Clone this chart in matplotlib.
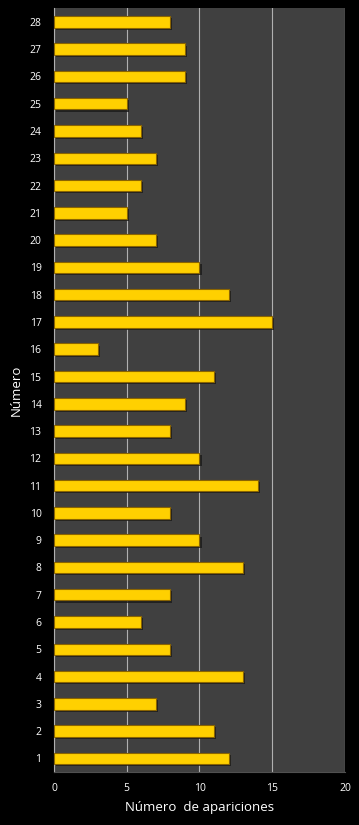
import matplotlib.pyplot as plt
import matplotlib.patheffects as pe

numbers = list(range(1, 29))
counts = [12, 11, 7, 13, 8, 6, 8, 13, 10, 8, 14, 10, 8, 9, 11, 3,
          15, 12, 10, 7, 5, 6, 7, 6, 5, 9, 9, 8]
x_ticks = [0, 5, 10, 15, 20]

plt.rcParams["font.family"] = ["Open Sans", "DejaVu Sans"]

fig = plt.figure(figsize=(3.59, 8.25), dpi=100, facecolor="black")
ax = fig.add_axes([0.1504, 0.0642, 0.8106, 0.9258])
ax.set_facecolor("#404040")

bars = ax.barh(
    numbers,
    counts,
    height=0.42,
    color="#FFD000",
    edgecolor="#8A6400",
    linewidth=0.8,
    zorder=3,
)
for b in bars:
    b.set_path_effects([
        pe.SimplePatchShadow(offset=(1.5, -1.5), shadow_rgbFace="#1a1a1a", alpha=0.8),
        pe.Normal(),
    ])

ax.set_xlim(0, 20)
ax.set_ylim(0.5, 28.5)
ax.set_xticks(x_ticks)
ax.set_yticks(numbers)
ax.tick_params(colors="white", labelsize=7.5, length=0, pad=8)
ax.tick_params(axis="y", pad=9)
ax.grid(axis="x", color="#B0B0B0", linewidth=0.8, zorder=1)

for side in ["top", "right"]:
    ax.spines[side].set_visible(False)
ax.spines["left"].set_color("#B0B0B0")
ax.spines["bottom"].set_color("#505050")

ax.set_xlabel("Número  de apariciones", color="white", fontsize=9.5, labelpad=5)
ax.set_ylabel("Número", color="white", fontsize=9.5, labelpad=5)

fig.savefig("out.png", dpi=100, facecolor="black")
